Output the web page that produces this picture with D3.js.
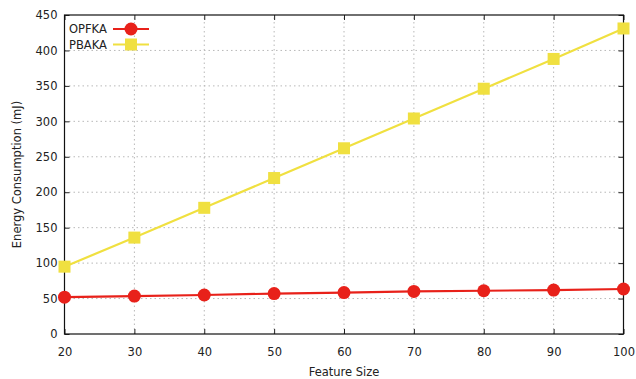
<!DOCTYPE html>
<html>
<head>
<meta charset="utf-8">
<script src="https://cdn.jsdelivr.net/npm/d3@7"></script>
<style>
  html, body { margin: 0; padding: 0; background: #fff; }
  svg text { font-family: "DejaVu Sans", Verdana, sans-serif; font-size: 11.5px; fill: #222; }
</style>
</head>
<body>
<svg id="chart" width="636" height="379"></svg>
<script>
// Energy consumption (mJ) by feature size for the two schemes
const featureSizes = [20, 30, 40, 50, 60, 70, 80, 90, 100];
const opfka = [52, 53.5, 55, 57, 58.5, 60, 61, 62, 63.5];
const pbaka = [95, 136, 178, 220, 262, 304, 346, 388, 431];
const xTicks = [20, 30, 40, 50, 60, 70, 80, 90, 100];
const yTicks = [0, 50, 100, 150, 200, 250, 300, 350, 400, 450];

const svg = d3.select("#chart");
const margin = { left: 64.5, right: 12.5, top: 15, bottom: 45 };
const W = 636, H = 379;
const fontSize = 11.5;

const x = d3.scaleLinear().domain([20, 100]).range([margin.left, W - margin.right]);
const y = d3.scaleLinear().domain([0, 450]).range([H - margin.bottom, margin.top]);

const x0 = x.range()[0], x1 = x.range()[1];
const y0 = y.range()[0], y1 = y.range()[1];

// dotted grid
const grid = svg.append("g").attr("stroke", "#b8b8b8").attr("stroke-width", 1)
  .attr("stroke-dasharray", "1.5,3");
xTicks.slice(1, -1).forEach(t => {
  grid.append("line").attr("x1", x(t)).attr("x2", x(t)).attr("y1", y0).attr("y2", y1);
});
yTicks.slice(1, -1).forEach(t => {
  grid.append("line").attr("x1", x0).attr("x2", x1).attr("y1", y(t)).attr("y2", y(t));
});

// axes with inward ticks, mirrored on the opposite sides
const tickLen = 5;
const axBottom = svg.append("g").attr("transform", `translate(0,${y0})`)
  .call(d3.axisBottom(x).tickValues(xTicks).tickSize(-tickLen).tickPadding(14));
const axTop = svg.append("g").attr("transform", `translate(0,${y1})`)
  .call(d3.axisTop(x).tickValues(xTicks).tickSize(-tickLen).tickFormat(""));
const axLeft = svg.append("g").attr("transform", `translate(${x0},0)`)
  .call(d3.axisLeft(y).tickValues(yTicks).tickSize(-tickLen).tickPadding(7));
const axRight = svg.append("g").attr("transform", `translate(${x1},0)`)
  .call(d3.axisRight(y).tickValues(yTicks).tickSize(-tickLen).tickFormat(""));
[axBottom, axTop, axLeft, axRight].forEach(g => {
  g.select(".domain").remove();
  g.selectAll(".tick line").attr("stroke", "#222");
  g.selectAll("text").attr("font-family", "DejaVu Sans, Verdana, sans-serif").attr("font-size", fontSize).attr("fill", "#222");
});

// frame
svg.append("rect").attr("x", x0).attr("y", y1).attr("width", x1 - x0).attr("height", y0 - y1)
  .attr("fill", "none").attr("stroke", "#111").attr("stroke-width", 1.2);

// axis titles
svg.append("text").attr("x", (x0 + x1) / 2).attr("y", 376).attr("text-anchor", "middle")
  .text("Feature Size");
svg.append("text").attr("transform", `translate(21,${(y0 + y1) / 2}) rotate(-90)`)
  .attr("text-anchor", "middle").text("Energy Consumption (mJ)");

const red = "#e8211a", yellow = "#f0e040";
const line = d3.line().x(d => x(d[0])).y(d => y(d[1]));

// PBAKA series
const pb = featureSizes.map((f, i) => [f, pbaka[i]]);
svg.append("path").datum(pb).attr("d", line).attr("fill", "none")
  .attr("stroke", yellow).attr("stroke-width", 2.2);
svg.selectAll(".pb").data(pb).enter().append("rect")
  .attr("x", d => x(d[0]) - 6).attr("y", d => y(d[1]) - 6)
  .attr("width", 12).attr("height", 12).attr("fill", yellow);

// OPFKA series
const op = featureSizes.map((f, i) => [f, opfka[i]]);
svg.append("path").datum(op).attr("d", line).attr("fill", "none")
  .attr("stroke", red).attr("stroke-width", 2.2);
svg.selectAll(".op").data(op).enter().append("circle")
  .attr("cx", d => x(d[0])).attr("cy", d => y(d[1])).attr("r", 6.5).attr("fill", red);

// legend
const legend = [{ name: "OPFKA", color: red, shape: "circle" },
                { name: "PBAKA", color: yellow, shape: "square" }];
legend.forEach((l, i) => {
  const ly = 29 + i * 15.5;
  svg.append("text").attr("x", 69).attr("y", ly + 4).text(l.name);
  svg.append("line").attr("x1", 113).attr("x2", 149).attr("y1", ly).attr("y2", ly)
    .attr("stroke", l.color).attr("stroke-width", 2.2);
  if (l.shape === "circle") {
    svg.append("circle").attr("cx", 131).attr("cy", ly).attr("r", 6.5).attr("fill", l.color);
  } else {
    svg.append("rect").attr("x", 125).attr("y", ly - 6).attr("width", 12).attr("height", 12).attr("fill", l.color);
  }
});
</script>
</body>
</html>
